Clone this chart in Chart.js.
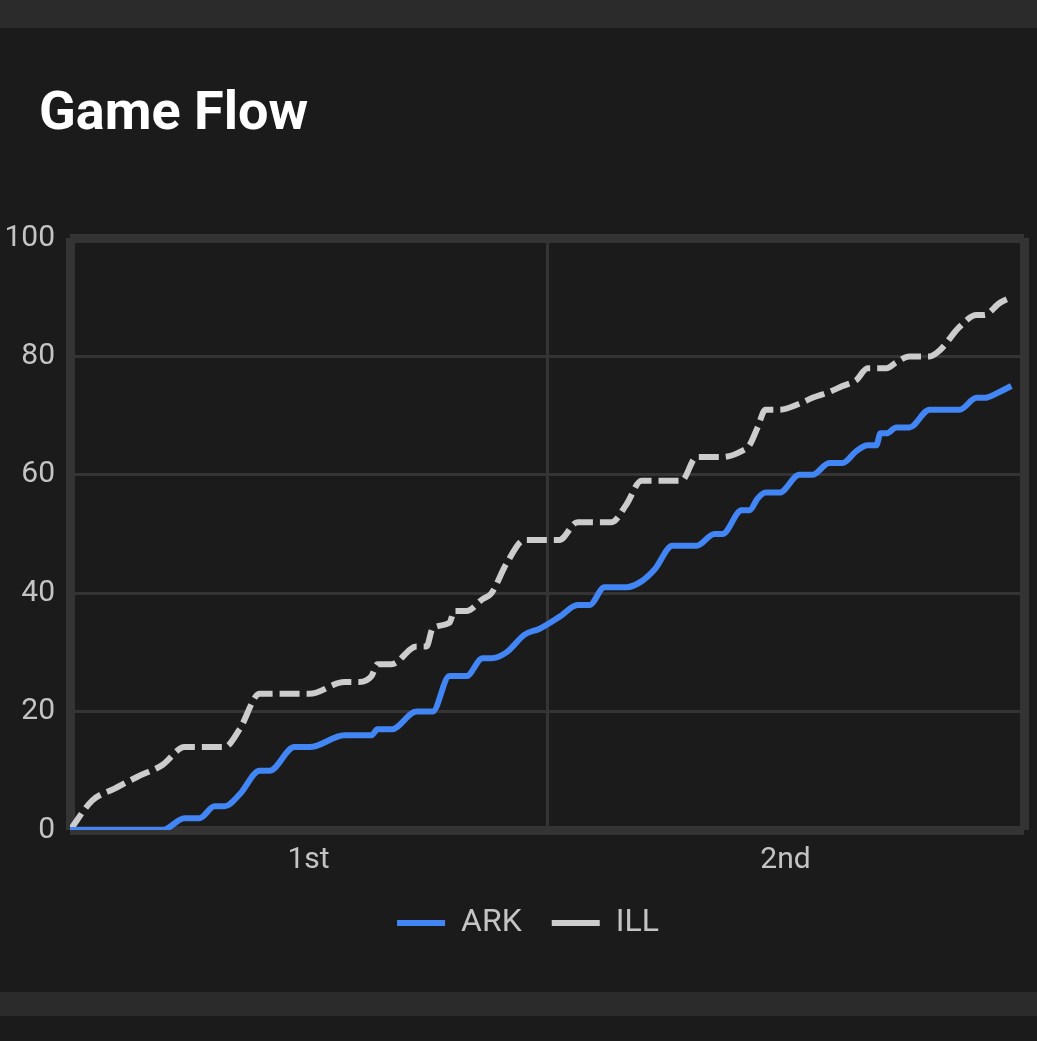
<!DOCTYPE html>
<html>
<head>
<meta charset="utf-8">
<title>Game Flow</title>
<script src="https://cdn.jsdelivr.net/npm/chart.js@4/dist/chart.umd.min.js"></script>
<style>
    html, body {
        margin: 0;
        padding: 0;
        background: #1b1b1b;
        width: 1037px;
        height: 1041px;
        overflow: hidden;
        font-family: Roboto, sans-serif;
    }
    .topbar {
        position: absolute;
        left: 0; top: 0;
        width: 1037px; height: 28px;
        background: #2b2b2b;
    }
    .bottombar {
        position: absolute;
        left: 0; top: 992px;
        width: 1037px; height: 24px;
        background: #2b2b2b;
    }
    h1 {
        position: absolute;
        left: 39px; top: 84px;
        margin: 0;
        font: 700 54px/1 Roboto, sans-serif;
        color: #ffffff;
    }
    .chart-box {
        position: absolute;
        left: 0; top: 190px;
        width: 1037px; height: 772px;
    }
</style>
</head>
<body>
<div class="topbar"></div>
<h1>Game Flow</h1>
<div class="chart-box"><canvas id="flowChart" width="1037" height="772"></canvas></div>
<div class="bottombar"></div>

<script>
// speltid i minuter (0-40), gemensam för båda lagen
const minutes = [0, 0.94, 1.87, 2.83, 3.88, 4.80, 5.43, 6.06, 6.48, 7.11, 7.95, 8.36, 9.41, 10.04,
    11.51, 12.14, 12.64, 12.89, 13.48, 14.53, 14.95, 15.20, 15.91, 16.12, 16.62, 17.30, 17.67,
    18.30, 19.06, 19.69, 20.52, 21.28, 21.78, 22.41, 22.71, 23.33, 23.96, 24.51, 25.26, 25.64,
    26.27, 27.02, 27.36, 28.16, 28.49, 28.83, 29.16, 29.75, 30.58, 31.13, 31.84, 32.39, 32.97,
    33.44, 33.81, 33.98, 34.23, 34.65, 35.20, 36.04, 36.46, 37.30, 38.01, 38.34, 38.97, 39.47];

const arkScore = [0, 0, 0, 0, 0, 2, 2, 4, 4, 6, 10, 10, 14, 14,
    16, 16, 16, 17, 17, 20, 20, 20, 26, 26, 26, 29, 29,
    30, 33, 34, 36, 38, 38, 41, 41, 41, 42, 44, 48, 48,
    48, 50, 50, 54, 54, 56, 57, 57, 60, 60, 62, 62, 64,
    65, 65, 67, 67, 68, 68, 71, 71, 71, 73, 73, 74, 75];

const illScore = [0, 5, 7, 9, 11, 14, 14, 14, 14, 17, 23, 23, 23, 23,
    25, 25, 26, 28, 28, 31, 31, 34, 35, 37, 37, 39, 40,
    45, 49, 49, 49, 52, 52, 52, 52, 55, 59, 59, 59, 59,
    63, 63, 63, 64, 65, 68, 71, 71, 72, 73, 74, 75, 76,
    78, 78, 78, 78, 79, 80, 80, 81, 85, 87, 87, 89, 90];

const teams = ['ARK', 'ILL'];
const halfTicks = { 10: '1st', 30: '2nd' };
const yTicks = [0, 20, 40, 60, 80, 100];

const gridColor = '#343434';

document.addEventListener('DOMContentLoaded', () => {
    renderFlowChart();
});

/**
 * Flyttar legenden lite (närmare x-axeln och mer åt höger)
 */
const legendNudge = {
    id: 'legendNudge',
    afterLayout(chart) {
        const lg = chart.legend;
        if (!lg) return;
        lg.left += 16;
        lg.right += 16;
        lg.top -= 13;
        lg.bottom -= 13;
    }
};

/**
 * Ritar matchförloppet för båda lagen
 */
function renderFlowChart() {
    Chart.defaults.font.family = 'Roboto';
    Chart.defaults.color = '#c4c4c4';

    const toPoints = scores => scores.map((s, i) => ({ x: minutes[i], y: s }));

    const ctx = document.getElementById('flowChart');
    new Chart(ctx, {
        type: 'line',
        data: {
            datasets: [{
                label: teams[0],
                data: toPoints(arkScore),
                borderColor: '#4285f4',
                backgroundColor: '#4285f4',
                borderWidth: 6,
                pointRadius: 0,
                cubicInterpolationMode: 'monotone'
            }, {
                label: teams[1],
                data: toPoints(illScore),
                borderColor: '#cccccc',
                backgroundColor: '#cccccc',
                borderWidth: 6,
                borderDash: [20, 7],
                pointRadius: 0,
                cubicInterpolationMode: 'monotone'
            }]
        },
        plugins: [legendNudge],
        options: {
            responsive: false,
            animation: false,
            devicePixelRatio: 1,
            layout: {
                padding: { top: 48, right: 13, left: 0, bottom: 0 }
            },
            plugins: {
                tooltip: { enabled: false },
                legend: {
                    position: 'bottom',
                    labels: {
                        usePointStyle: true,
                        pointStyle: 'line',
                        pointStyleWidth: 48,
                        padding: 30,
                        color: '#c4c4c4',
                        font: { size: 32 }
                    }
                }
            },
            scales: {
                x: {
                    type: 'linear',
                    min: 0,
                    max: 40,
                    border: { display: false },
                    grid: {
                        drawTicks: false,
                        color: c => (c.tick && c.tick.value % 20 === 0) ? gridColor : 'transparent',
                        lineWidth: c => (c.tick && (c.tick.value === 0 || c.tick.value === 40)) ? 9 : 3
                    },
                    ticks: {
                        stepSize: 10,
                        autoSkip: false,
                        maxRotation: 0,
                        padding: 12,
                        color: '#c4c4c4',
                        font: { size: 30 },
                        callback: v => halfTicks[v] || ''
                    }
                },
                y: {
                    min: yTicks[0],
                    max: yTicks[yTicks.length - 1],
                    afterFit: scale => { scale.width = 70; },
                    border: { display: false },
                    grid: {
                        drawTicks: false,
                        color: gridColor,
                        lineWidth: c => (c.tick && (c.tick.value === 0 || c.tick.value === 100)) ? 9 : 3
                    },
                    ticks: {
                        stepSize: 20,
                        padding: 15,
                        color: '#c4c4c4',
                        font: { size: 30 }
                    }
                }
            }
        }
    });
}
</script>
</body>
</html>
